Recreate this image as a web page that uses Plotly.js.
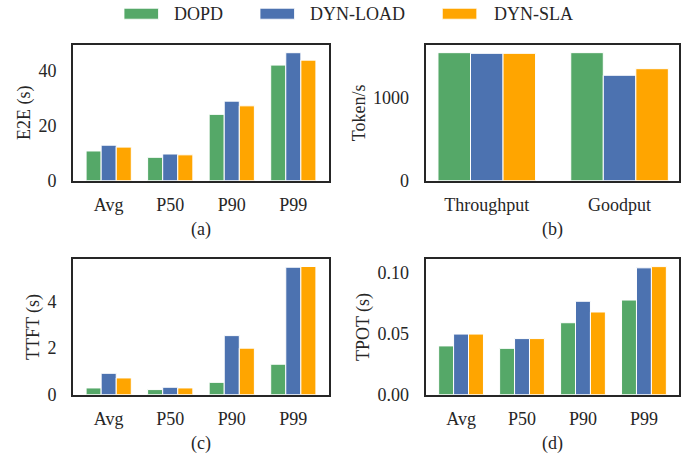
<!DOCTYPE html>
<html>
<head>
<meta charset="utf-8">
<script src="https://cdn.plot.ly/plotly-3.0.1.min.js"></script>
<style>html,body{margin:0;padding:0;background:#fff;}#chart{width:689px;height:455px;}</style>
</head>
<body>
<div id="chart"></div>
<script>
// ---- data ----
const series = ["DOPD", "DYN-LOAD", "DYN-SLA"];
const colors = ["#55A868", "#4C72B0", "#FFA500"];

const latencyCats = ["Avg", "P50", "P90", "P99"];
const tputCats = ["Throughput", "Goodput"];

const e2eDOPD = [10.8, 8.5, 24.1, 42.0];
const e2eLOAD = [12.9, 9.7, 28.9, 46.5];
const e2eSLA  = [12.2, 9.4, 27.2, 43.8];

const tokDOPD = [1535, 1535];
const tokLOAD = [1527, 1264];
const tokSLA  = [1527, 1343];

const ttftDOPD = [0.29, 0.22, 0.53, 1.31];
const ttftLOAD = [0.92, 0.32, 2.54, 5.48];
const ttftSLA  = [0.72, 0.29, 2.00, 5.51];

const tpotDOPD = [0.040, 0.038, 0.059, 0.0776];
const tpotLOAD = [0.0497, 0.046, 0.0766, 0.104];
const tpotSLA  = [0.0497, 0.046, 0.0678, 0.105];

const panels = [
  {xa: "x",  ya: "y",  cats: latencyCats, vals: [e2eDOPD, e2eLOAD, e2eSLA]},
  {xa: "x2", ya: "y2", cats: tputCats,    vals: [tokDOPD, tokLOAD, tokSLA]},
  {xa: "x3", ya: "y3", cats: latencyCats, vals: [ttftDOPD, ttftLOAD, ttftSLA]},
  {xa: "x4", ya: "y4", cats: latencyCats, vals: [tpotDOPD, tpotLOAD, tpotSLA]}
];

const traces = [];
panels.forEach(p => {
  series.forEach((s, i) => {
    traces.push({
      type: "bar", name: s, x: p.cats, y: p.vals[i],
      xaxis: p.xa, yaxis: p.ya,
      marker: {color: colors[i], line: {color: "#ffffff", width: 1}},
      legendgroup: s, showlegend: false, hoverinfo: "x+y+name"
    });
  });
});

const W = 689, H = 455;
const font = {family: "Liberation Serif, Times New Roman, serif", size: 18, color: "#262626"};
const colA = [73 / W, 329 / W], colB = [425.7 / W, 679.3 / W];
const rowTop = [1 - 180.7 / H, 1 - 45 / H], rowBot = [1 - 394.7 / H, 1 - 259.3 / H];

function xaxis(domain, anchor, title, range) {
  return {
    domain: domain, anchor: anchor, range: range, type: "category",
    showline: true, mirror: true, linecolor: "#262626", linewidth: 2,
    showgrid: false, zeroline: false, ticks: "", ticklabelstandoff: 7,
    tickfont: font, title: {text: title, font: font, standoff: 8}, fixedrange: true
  };
}
function yaxis(domain, anchor, title, range, tickvals, fmt) {
  return {
    domain: domain, anchor: anchor, range: range,
    showline: true, mirror: true, linecolor: "#262626", linewidth: 2,
    showgrid: false, zeroline: false, ticks: "", ticklabelstandoff: 11,
    tickvals: tickvals, tickformat: fmt,
    tickfont: font, title: {text: title, font: font, standoff: 3}, fixedrange: true
  };
}

// legend drawn as layout shapes + text (wide swatches as in the original)
const legendSwatchX = [124, 260, 442.3];
const legendTextX = [172, 307.5, 491.5];
const shapes = [], annotations = [];
series.forEach((s, i) => {
  shapes.push({type: "rect", xref: "paper", yref: "paper",
    x0: legendSwatchX[i] / W, x1: (legendSwatchX[i] + 34.5) / W,
    y0: 1 - 19.2 / H, y1: 1 - 8.3 / H,
    fillcolor: colors[i], line: {color: "#ffffff", width: 0.8}});
  annotations.push({xref: "paper", yref: "paper", x: legendTextX[i] / W, y: 1 - 14.3 / H,
    xanchor: "left", yanchor: "middle", showarrow: false, text: s,
    font: {family: font.family, size: 18, color: "#262626"}});
});

const layout = {
  width: W, height: H,
  margin: {l: 0, r: 0, t: 0, b: 0},
  paper_bgcolor: "#ffffff", plot_bgcolor: "#ffffff",
  font: font,
  barmode: "group", bargap: 0.265, bargroupgap: 0,
  showlegend: false,
  shapes: shapes, annotations: annotations,
  xaxis:  xaxis(colA, "y",  "(a)", [-0.58, 3.58]),
  yaxis:  yaxis(rowTop, "x",  "E2E (s)", [0, 49.3], [0, 20, 40], "d"),
  xaxis2: xaxis(colB, "y2", "(b)", [-0.46, 1.45]),
  yaxis2: yaxis(rowTop, "x2", "Token/s", [0, 1627], [0, 1000], "d"),
  xaxis3: xaxis(colA, "y3", "(c)", [-0.58, 3.58]),
  yaxis3: yaxis(rowBot, "x3", "TTFT (s)", [0, 5.82], [0, 2, 4], "d"),
  xaxis4: xaxis(colB, "y4", "(d)", [-0.58, 3.58]),
  yaxis4: yaxis(rowBot, "x4", "TPOT (s)", [0, 0.111], [0, 0.05, 0.10], ".2f")
};

Plotly.newPlot("chart", traces, layout, {displayModeBar: false, staticPlot: true});
</script>
</body>
</html>
